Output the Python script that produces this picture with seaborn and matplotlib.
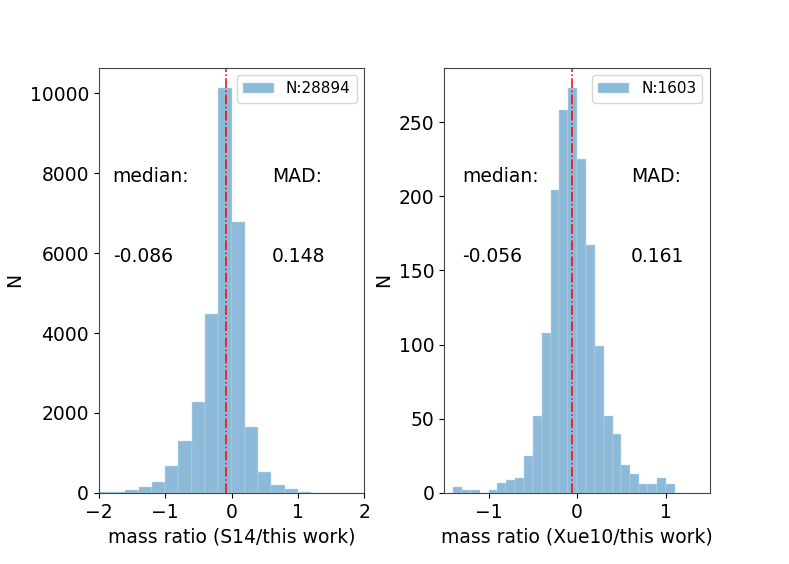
import matplotlib
matplotlib.use("Agg")
import matplotlib.pyplot as plt
import numpy as np
import pandas as pd
import seaborn as sns

# left panel: S14 / this work, bins of 0.2 from -2 to 2
s14_edges = np.round(np.arange(-2.0, 2.0001, 0.2), 2)
s14_counts = [15, 35, 80, 150, 275, 667, 1308, 2283, 4467, 10133,
              6783, 1650, 525, 208, 92, 25, 8, 0, 0, 0]
s14_median = -0.086
s14_mad = 0.148
s14_n = 28894

# right panel: Xue10 / this work, bins of 0.1 from -1.4 to 1.1
xue_edges = np.round(np.arange(-1.4, 1.1001, 0.1), 2)
xue_counts = [4, 2, 2, 0, 2, 7, 9, 10, 25, 52, 108, 204, 258, 273,
              225, 167, 99, 52, 40, 19, 13, 6, 6, 10, 6]
xue_median = -0.056
xue_mad = 0.161
xue_n = 1603

plt.rcParams["font.family"] = ["DejaVu Sans"]
plt.rcParams["font.size"] = 13.5

fig, axes = plt.subplots(1, 2, figsize=(7.89, 5.64), dpi=100)
fig.subplots_adjust(left=0.125, right=0.9, top=0.88, bottom=0.126, wspace=0.3)

panels = [
    (axes[0], s14_edges, s14_counts, s14_median, s14_mad, s14_n,
     "mass ratio (S14/this work)", (-2, 2), 0.053, 0.652),
    (axes[1], xue_edges, xue_counts, xue_median, xue_mad, xue_n,
     "mass ratio (Xue10/this work)", (-1.5, 1.5), 0.069, 0.703),
]

for ax, edges, counts, med, mad, n, xlabel, xlim, xmed, xmad in panels:
    df = pd.DataFrame({"ratio": (edges[:-1] + edges[1:]) / 2, "count": counts})
    sns.histplot(data=df, x="ratio", weights="count", bins=list(edges), color="#1f77b4",
                 alpha=0.5, edgecolor="#c4dcec", linewidth=0.3,
                 label=f"N:{n}", ax=ax)
    ax.axvline(med, color="red", linestyle="-.", linewidth=1.1)
    ax.set_xlim(*xlim)
    ax.set_xlabel(xlabel)
    ax.set_ylabel("N")
    ax.text(xmed, 0.73, "median:", transform=ax.transAxes)
    ax.text(xmed, 0.543, f"{med:.3f}", transform=ax.transAxes)
    ax.text(xmad, 0.73, "MAD:", transform=ax.transAxes)
    ax.text(xmad, 0.543, f"{mad:.3f}", transform=ax.transAxes)
    ax.legend(loc="upper right", fontsize=11)
    for sp in ax.spines.values():
        sp.set_color("#444444")

fig.savefig("out.png", dpi=100)
